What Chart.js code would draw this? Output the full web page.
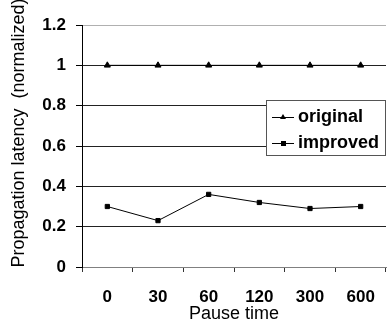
<!DOCTYPE html>
<html>
<head>
<meta charset="utf-8">
<script src="https://cdn.jsdelivr.net/npm/chart.js@4/dist/chart.umd.min.js"></script>
<style>
  html, body { margin: 0; padding: 0; background: #fff; }
  #wrap { width: 391px; height: 326px; }
</style>
</head>
<body>
<div id="wrap"><canvas id="chart" width="391" height="326"></canvas></div>
<script>
var categories = ['0', '30', '60', '120', '300', '600']
var originalValues = [1, 1, 1, 1, 1, 1]
var improvedValues = [0.30, 0.23, 0.36, 0.32, 0.29, 0.30]
var yTicks = [0, 0.2, 0.4, 0.6, 0.8, 1, 1.2]

var fam = '"Liberation Sans", Arial, sans-serif'

// y title and legend box are painted by hand so they sit where the original has them
var extras = {
    id: 'extras',
    afterDraw: function(chart){
        var ctx = chart.ctx
        ctx.save()
        ctx.fillStyle = '#000'
        ctx.font = '18px ' + fam
        ctx.textAlign = 'center'
        ctx.textBaseline = 'middle'
        ctx.translate(19, 133)
        ctx.rotate(-Math.PI / 2)
        ctx.fillText('Propagation latency  (normalized)', 0, 0)
        ctx.restore()

        // legend
        var bx = 266, by = 100, bw = 119, bh = 55
        ctx.save()
        ctx.fillStyle = '#fff'
        ctx.fillRect(bx, by, bw, bh)
        ctx.strokeStyle = '#555'
        ctx.lineWidth = 1
        ctx.strokeRect(bx + 0.5, by + 0.5, bw, bh)
        var rows = [117, 143]
        chart.data.datasets.forEach(function(ds, i){
            var y = rows[i]
            ctx.strokeStyle = '#000'
            ctx.beginPath()
            ctx.moveTo(272, y + 0.5)
            ctx.lineTo(294, y + 0.5)
            ctx.stroke()
            ctx.fillStyle = '#000'
            if (ds.pointStyle === 'triangle') {
                ctx.beginPath()
                ctx.moveTo(283, y - 3)
                ctx.lineTo(286, y + 2)
                ctx.lineTo(280, y + 2)
                ctx.closePath()
                ctx.fill()
            } else {
                ctx.fillRect(281, y - 2, 5, 5)
            }
            ctx.font = 'bold 18px ' + fam
            ctx.textAlign = 'left'
            ctx.textBaseline = 'middle'
            ctx.fillText(ds.label, 298, y)
        })
        ctx.restore()
    }
}

new Chart(document.getElementById('chart'), {
    type: 'line',
    data: {
        labels: categories,
        datasets: [{
            label: 'original',
            data: originalValues,
            borderColor: '#000',
            backgroundColor: '#000',
            borderWidth: 1,
            pointStyle: 'triangle',
            pointRadius: 3.5,
            tension: 0
        }, {
            label: 'improved',
            data: improvedValues,
            borderColor: '#000',
            backgroundColor: '#000',
            borderWidth: 1,
            pointStyle: 'rect',
            pointRadius: 3,
            tension: 0
        }]
    },
    options: {
        responsive: false,
        animation: false,
        layout: { padding: { top: 25, right: 0, left: 0, bottom: 0 } },
        plugins: {
            legend: { display: false },
            tooltip: { enabled: false }
        },
        scales: {
            x: {
                offset: true,
                afterFit: function(s){ s.height = 59 },
                grid: {
                    offset: true,
                    drawOnChartArea: false,
                    tickLength: 5,
                    tickColor: '#333'
                },
                border: { color: '#808080' },
                ticks: {
                    color: '#000',
                    padding: 15,
                    font: { family: fam, size: 17, weight: 'bold' }
                },
                title: {
                    display: true,
                    text: 'Pause time',
                    color: '#000',
                    padding: { top: 0, bottom: 1.5 },
                    font: { family: fam, size: 18 }
                }
            },
            y: {
                min: 0,
                max: 1.2,
                afterFit: function(s){ s.width = 82 },
                afterBuildTicks: function(s){
                    s.ticks = yTicks.map(function(v){ return { value: v } })
                },
                grid: {
                    tickLength: 6,
                    tickColor: '#000',
                    color: function(c){
                        if (c.tick && c.tick.value === 1.2) return '#b0b0b0'
                        if (c.tick && c.tick.value === 0) return '#808080'
                        return '#222'
                    }
                },
                border: { color: '#000' },
                ticks: {
                    color: '#000',
                    padding: 10,
                    font: { family: fam, size: 17, weight: 'bold' },
                    callback: function(v){ return String(Math.round(v * 10) / 10) }
                },
                title: { display: false }
            }
        }
    },
    plugins: [extras]
})
</script>
</body>
</html>
